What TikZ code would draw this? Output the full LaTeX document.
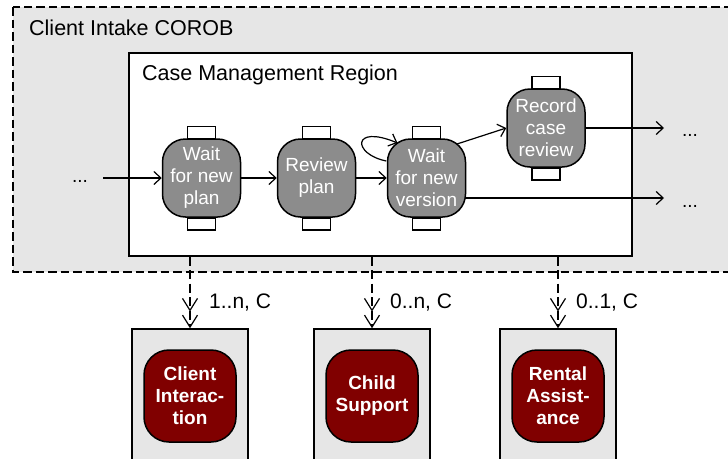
\documentclass[tikz,border=0pt]{standalone}
\usepackage{fontspec}
\setmainfont{Liberation Sans}
\usetikzlibrary{arrows.meta}
\definecolor{regionfill}{HTML}{E6E6E6}
\definecolor{stategray}{HTML}{8C8C8C}
\definecolor{partred}{HTML}{800000}
\tikzset{
  corob/.style={draw, line width=1.4pt, dash pattern=on 8.5pt off 4pt, fill=regionfill},
  regionbox/.style={draw, line width=1.2pt, fill=white, minimum width=503pt, minimum height=203pt, inner sep=0pt},
  title/.style={anchor=base west, inner sep=0pt, font=\fontsize{21.5}{25}\selectfont},
  state/.style={draw, line width=1.5pt, fill=stategray, rounded corners=23pt,
    minimum width=78pt, minimum height=78pt, inner sep=0pt, text=white, align=center,
    font=\fontsize{19}{22}\selectfont},
  tab/.style={draw, line width=1.5pt, fill=white},
  flow/.style={line width=1.2pt, -{Straight Barb[length=7pt,width=13pt]}},
  dots/.style={anchor=base, inner sep=0pt, font=\fontsize{19}{22}\selectfont},
  partbox/.style={draw, line width=1.5pt, fill=regionfill, minimum width=116pt, minimum height=134pt, inner sep=0pt},
  part/.style={draw, line width=1.5pt, fill=partred, rounded corners=25pt,
    minimum width=92pt, minimum height=92pt, inner sep=0pt, text=white, align=center,
    font=\bfseries\fontsize{19}{22}\selectfont},
  uses/.style={line width=1.2pt, dash pattern=on 9pt off 4.5pt,
    -{Straight Barb[length=12pt,width=15pt,sep=3pt] Straight Barb[length=12pt,width=15pt]}},
  mult/.style={anchor=base west, inner sep=0pt, font=\fontsize{21}{25}\selectfont}
}
\begin{document}
\begin{tikzpicture}[x=1pt,y=-1pt]
\clip (0,0) rectangle (728,458);

% outer COROB region
\draw[corob] (13,7) rectangle (745,272);
\node[title] (corobtitle) at (29,35) {Client Intake COROB};

% inner region
\node[regionbox] (cmr) at (380.5,154.5) {};
\node[title] (cmrtitle) at (142,80) {Case Management Region};

% states
\node[state] (n1) at (201.5,178) {Wait\\for new\\plan};
\node[state] (n2) at (316.5,178) {Review\\plan};
\node[state] (n3) at (426.5,178) {Wait\\for new\\version};
\node[state] (n4) at (546,128) {Record\\case\\review};
\foreach \s in {n1,n2,n3,n4} {
  \draw[tab] ([xshift=-14pt]\s.north) rectangle ([xshift=14pt,yshift=12pt]\s.north);
  \draw[tab] ([xshift=-14pt]\s.south) rectangle ([xshift=14pt,yshift=-12pt]\s.south);
}

% transitions
\node[dots] (inDots) at (80,182) {...};
\coordinate (inStart) at (103,178);
\draw[flow] (inStart) -- (n1.west);
\draw[flow] (n1.east) -- (n2.west);
\draw[flow] (n2.east) -- (n3.west);
\draw[flow] ([shift={(-0.5pt,17pt)}]n3.west) .. controls (352,154) and (352,124) .. ([shift={(-29pt,35pt)}]n3.center);
\draw[flow] ([shift={(30.5pt,34pt)}]n3.center) -- (n4.west);
\coordinate (out1) at (664,128);
\coordinate (out2) at (664,198);
\draw[flow] (n4.east) -- (out1);
\draw[flow] ([yshift=-20pt]n3.east) -- (out2);
\node[dots] (outDots1) at (690,136) {...};
\node[dots] (outDots2) at (690,207) {...};

% parts
\node[partbox] (b1) at (190,396) {};
\node[partbox] (b2) at (372,396) {};
\node[partbox] (b3) at (558,396) {};
\node[part] (p1) at (b1) {Client\\Interac-\\tion};
\node[part] (p2) at (b2) {Child\\Support};
\node[part] (p3) at (b3) {Rental\\Assist-\\ance};

% uses relations
\draw[uses] (b1.north |- cmr.south) -- (b1.north);
\draw[uses] (b2.north |- cmr.south) -- (b2.north);
\draw[uses] (b3.north |- cmr.south) -- (b3.north);
\node[mult] (m1) at (209,308) {1..n, C};
\node[mult] (m2) at (390,308) {0..n, C};
\node[mult] (m3) at (576,308) {0..1, C};
\end{tikzpicture}
\end{document}
